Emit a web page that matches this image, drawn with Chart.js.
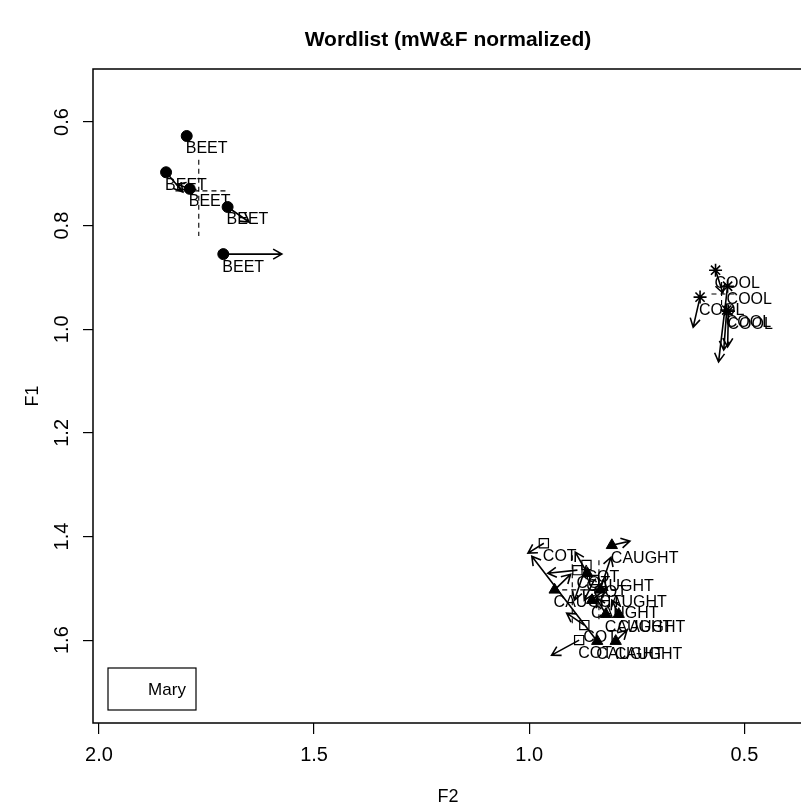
<!DOCTYPE html>
<html>
<head>
<meta charset="utf-8">
<title>Wordlist (mW&F normalized)</title>
<script src="https://cdn.jsdelivr.net/npm/chart.js@4/dist/chart.umd.min.js"></script>
<style>
  html, body { margin: 0; padding: 0; background: #fff; overflow: hidden; }
  #wrap { width: 811px; height: 805px; }
</style>
</head>
<body>
<div id="wrap"><canvas id="vowelChart" width="811" height="805"></canvas></div>
<script>
  // --- Data (F2 on x, F1 on y; start of token and end of its trajectory) ---
  const words = ['BEET', 'COOL', 'CAUGHT', 'COT'];

  const beetF2 = [1.796, 1.844, 1.789, 1.701, 1.711];
  const beetF1 = [0.627, 0.697, 0.729, 0.764, 0.855];
  const beetEndF2 = [1.796, 1.805, 1.819, 1.651, 1.575];
  const beetEndF1 = [0.627, 0.735, 0.720, 0.793, 0.855];

  const coolF2 = [0.567, 0.603, 0.539, 0.541, 0.537];
  const coolF1 = [0.886, 0.938, 0.917, 0.963, 0.965];
  const coolEndF2 = [0.550, 0.619, 0.560, 0.548, 0.539];
  const coolEndF1 = [0.930, 0.996, 1.063, 1.040, 1.034];

  const caughtF2 = [0.808, 0.865, 0.941, 0.835, 0.842, 0.799, 0.854, 0.822, 0.792];
  const caughtF1 = [1.417, 1.471, 1.503, 1.503, 1.602, 1.602, 1.523, 1.550, 1.550];
  const caughtEndF2 = [0.766, 0.893, 0.904, 0.810, 0.994, 0.773, 0.822, 0.844, 0.808];
  const caughtEndF1 = [1.409, 1.430, 1.473, 1.440, 1.438, 1.581, 1.500, 1.519, 1.523];

  const cotF2 = [0.966, 0.888, 0.867, 0.884, 0.872, 0.849];
  const cotF1 = [1.413, 1.465, 1.455, 1.600, 1.571, 1.484];
  const cotEndF2 = [1.003, 0.957, 0.895, 0.948, 0.913, 0.872];
  const cotEndF1 = [1.432, 1.471, 1.523, 1.629, 1.548, 1.523];

  // mean cross per word: [centre F2, centre F1, F2 low end, F2 high end, F1 low end, F1 high end]
  const beetCross = [1.768, 0.733, 1.706, 1.825, 0.673, 0.820];
  const coolCross = [0.553, 0.932, 0.523, 0.578, 0.909, 0.959];
  const caughtCross = [0.838, 1.503, 0.799, 0.877, 1.446, 1.561];
  const cotCross = [0.900, 1.503, 0.849, 0.952, 1.436, 1.571];

  const xTicks = [2.0, 1.5, 1.0, 0.5];
  const yTicks = [0.6, 0.8, 1.0, 1.2, 1.4, 1.6];
  const speakers = ['Mary'];

  const FONT = "'Liberation Sans', Helvetica, Arial, sans-serif";

  // --- Helpers ---
  function pts(xs, ys) {
    return xs.map((x, i) => ({ x: x, y: ys[i] }));
  }

  function drawArrow(ctx, x0, y0, x1, y1) {
    const len = Math.hypot(x1 - x0, y1 - y0);
    if (len < 2) return;
    const ang = Math.atan2(y1 - y0, x1 - x0);
    const head = 10;
    ctx.beginPath();
    ctx.moveTo(x0, y0);
    ctx.lineTo(x1, y1);
    ctx.moveTo(x1 - head * Math.cos(ang - Math.PI / 6), y1 - head * Math.sin(ang - Math.PI / 6));
    ctx.lineTo(x1, y1);
    ctx.lineTo(x1 - head * Math.cos(ang + Math.PI / 6), y1 - head * Math.sin(ang + Math.PI / 6));
    ctx.stroke();
  }

  const groups = [
    { word: words[0], f2: beetF2, f1: beetF1, e2: beetEndF2, e1: beetEndF1, cross: beetCross },
    { word: words[1], f2: coolF2, f1: coolF1, e2: coolEndF2, e1: coolEndF1, cross: coolCross },
    { word: words[2], f2: caughtF2, f1: caughtF1, e2: caughtEndF2, e1: caughtEndF1, cross: caughtCross },
    { word: words[3], f2: cotF2, f1: cotF1, e2: cotEndF2, e1: cotEndF1, cross: cotCross }
  ];

  // --- Plugin: frame, texts, arrows, crosses, legend ---
  const extras = {
    id: 'extras',
    afterDatasetsDraw(chart) {
      const ctx = chart.ctx;
      const xs = chart.scales.x;
      const ys = chart.scales.y;
      const area = chart.chartArea;
      ctx.save();
      ctx.strokeStyle = '#000';
      ctx.fillStyle = '#000';

      // dashed crosses
      ctx.lineWidth = 1.1;
      ctx.setLineDash([5, 4]);
      groups.forEach(g => {
        const c = g.cross;
        const cx = xs.getPixelForValue(c[0]);
        const cy = ys.getPixelForValue(c[1]);
        ctx.beginPath();
        ctx.moveTo(xs.getPixelForValue(c[2]), cy);
        ctx.lineTo(xs.getPixelForValue(c[3]), cy);
        ctx.moveTo(cx, ys.getPixelForValue(c[4]));
        ctx.lineTo(cx, ys.getPixelForValue(c[5]));
        ctx.stroke();
      });
      ctx.setLineDash([]);

      // trajectories
      ctx.lineWidth = 1.6;
      groups.forEach(g => {
        g.f2.forEach((v, i) => {
          drawArrow(ctx,
            xs.getPixelForValue(v), ys.getPixelForValue(g.f1[i]),
            xs.getPixelForValue(g.e2[i]), ys.getPixelForValue(g.e1[i]));
        });
      });

      // word labels
      ctx.font = '16px ' + FONT;
      ctx.textAlign = 'left';
      ctx.textBaseline = 'middle';
      groups.forEach(g => {
        g.f2.forEach((v, i) => {
          ctx.fillText(g.word, xs.getPixelForValue(v) - 1, ys.getPixelForValue(g.f1[i]) + 13);
        });
      });

      // legend
      ctx.lineWidth = 1.2;
      ctx.strokeRect(area.left + 15, area.bottom - 55, 88, 42);
      ctx.font = '17px ' + FONT;
      ctx.textAlign = 'center';
      ctx.fillText(speakers[0], area.left + 74, area.bottom - 33);

      // plot frame
      ctx.lineWidth = 1.5;
      ctx.strokeRect(area.left, area.top, area.right - area.left, area.bottom - area.top);

      // y tick labels (rotated, as in R)
      ctx.font = '20px ' + FONT;
      ctx.textAlign = 'center';
      ctx.textBaseline = 'middle';
      yTicks.forEach(v => {
        ctx.save();
        ctx.translate(62, ys.getPixelForValue(v));
        ctx.rotate(-Math.PI / 2);
        ctx.fillText(v.toFixed(1), 0, 0);
        ctx.restore();
      });

      // titles
      const midX = (area.left + area.right) / 2;
      ctx.font = 'bold 21px ' + FONT;
      ctx.fillText('Wordlist (mW&F normalized)', midX, 40);
      ctx.font = '18px ' + FONT;
      ctx.fillText('F2', midX, 797);
      ctx.save();
      ctx.translate(33, (area.top + area.bottom) / 2);
      ctx.rotate(-Math.PI / 2);
      ctx.fillText('F1', 0, 0);
      ctx.restore();

      ctx.restore();
    }
  };

  // --- Chart ---
  const chart = new Chart(document.getElementById('vowelChart'), {
    type: 'scatter',
    data: {
      datasets: [
        { label: words[0], data: pts(beetF2, beetF1), pointStyle: 'circle', pointRadius: 5.5,
          backgroundColor: '#000', borderColor: '#000', borderWidth: 1 },
        { label: words[1], data: pts(coolF2, coolF1), pointStyle: 'star', pointRadius: 6.5,
          backgroundColor: '#000', borderColor: '#000', borderWidth: 1.6 },
        { label: words[2], data: pts(caughtF2, caughtF1), pointStyle: 'triangle', pointRadius: 6.5,
          backgroundColor: '#000', borderColor: '#000', borderWidth: 1 },
        { label: words[3], data: pts(cotF2, cotF1), pointStyle: 'rect', pointRadius: 6.5,
          backgroundColor: 'rgba(0,0,0,0)', borderColor: '#000', borderWidth: 1.2 }
      ]
    },
    options: {
      responsive: false,
      animation: false,
      layout: { padding: { top: 69, left: 0, right: 0, bottom: 0 } },
      plugins: { legend: { display: false }, tooltip: { enabled: false }, title: { display: false } },
      scales: {
        x: {
          type: 'linear',
          reverse: true,
          min: 0.364,
          max: 2.0138,
          afterBuildTicks: s => { s.ticks = xTicks.map(v => ({ value: v })); },
          afterFit: s => { s.height = 82; },
          border: { display: false },
          grid: { drawOnChartArea: false, drawTicks: true, tickLength: 11, color: '#000', lineWidth: 1.2 },
          ticks: { color: '#000', padding: 9, maxRotation: 0, font: { size: 20, family: FONT },
                   callback: v => Number(v).toFixed(1) }
        },
        y: {
          type: 'linear',
          reverse: true,
          min: 0.4977,
          max: 1.760,
          afterBuildTicks: s => { s.ticks = yTicks.map(v => ({ value: v })); },
          afterFit: s => { s.width = 93; },
          border: { display: false },
          grid: { drawOnChartArea: false, drawTicks: true, tickLength: 10, color: '#000', lineWidth: 1.2 },
          ticks: { display: false }
        }
      }
    },
    plugins: [extras]
  });
</script>
</body>
</html>
